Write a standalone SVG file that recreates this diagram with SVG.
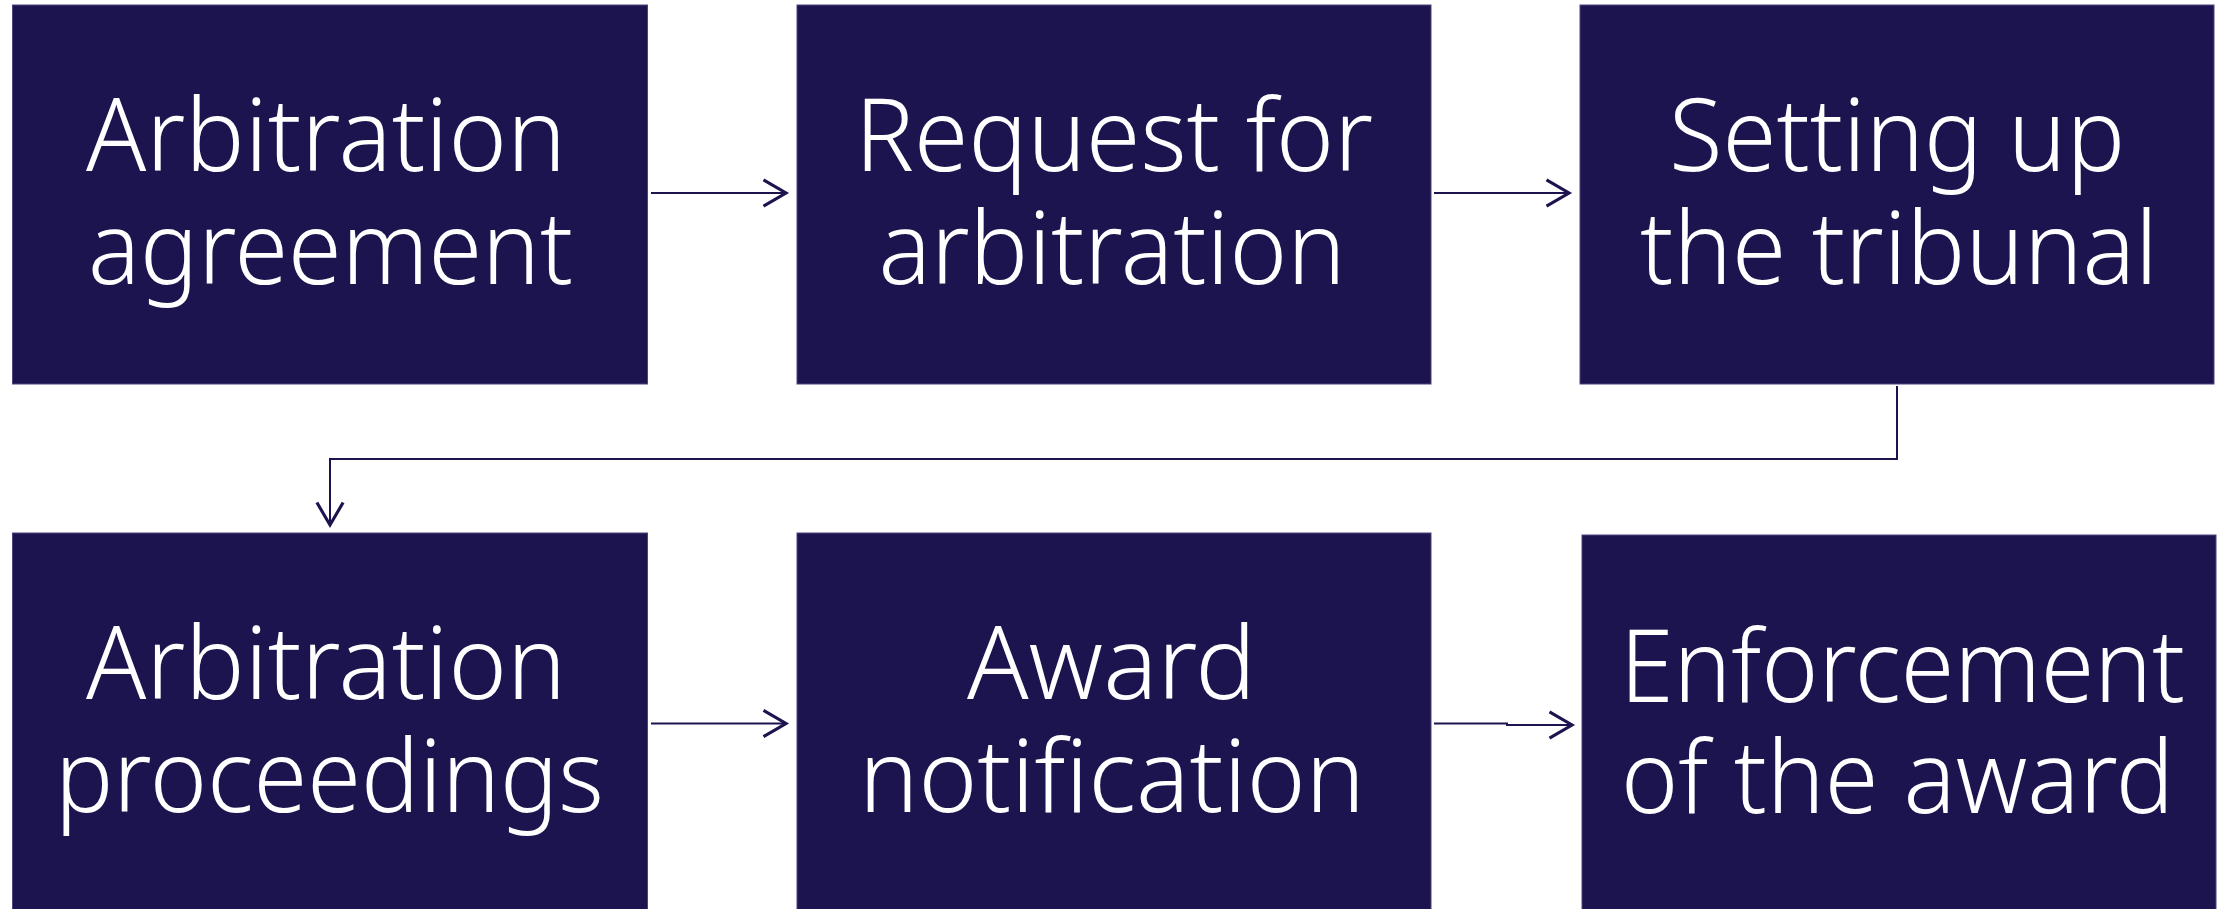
<svg xmlns="http://www.w3.org/2000/svg" width="2219" height="909" viewBox="0 0 2219 909">
  <style>
    .box { fill: #1c144e; stroke: #4a4580; stroke-width: 1; }
    .lbl { fill: #ffffff; font-family: "Noto Sans", "Open Sans", "DejaVu Sans", sans-serif; font-weight: 300; font-size: 102px; text-anchor: middle; }
    .conn { fill: none; stroke: #1c144e; stroke-width: 2; }
  </style>
  <defs>
    <marker id="arr" markerUnits="userSpaceOnUse" markerWidth="30" markerHeight="30" refX="0" refY="0" viewBox="-20 -12 22 24" orient="auto" overflow="visible">
      <path d="M-18,-10.5 L0,0 L-18,10.5" fill="none" stroke="#1c144e" stroke-width="2.5"/>
    </marker>
  </defs>
  <rect width="2219" height="909" fill="#ffffff"/>

  <g id="connectors">
    <path class="conn" d="M651,193 L786,193" marker-end="url(#arr)"/>
    <path class="conn" d="M1434,193 L1569,193" marker-end="url(#arr)"/>
    <path class="conn" d="M1897,386 L1897,459 L330,459 L330,525" marker-end="url(#arr)"/>
    <path class="conn" d="M651,723.5 L786,723.5" marker-end="url(#arr)"/>
    <path class="conn" d="M1434,723.5 L1507,723.5 L1507,725 L1572,725" marker-end="url(#arr)"/>
  </g>

  <g id="node1">
    <rect class="box" x="12.5" y="5" width="635" height="379"/>
    <text class="lbl" x="326" y="171" textLength="480" lengthAdjust="spacingAndGlyphs">Arbitration</text>
    <text class="lbl" x="330.5" y="284" textLength="485" lengthAdjust="spacingAndGlyphs">agreement</text>
  </g>
  <g id="node2">
    <rect class="box" x="797" y="5" width="634" height="379"/>
    <text class="lbl" x="1114" y="171" textLength="518" lengthAdjust="spacingAndGlyphs">Request for</text>
    <text class="lbl" x="1112" y="284" textLength="467" lengthAdjust="spacingAndGlyphs">arbitration</text>
  </g>
  <g id="node3">
    <rect class="box" x="1580" y="5" width="634" height="379"/>
    <text class="lbl" x="1897" y="171" textLength="456" lengthAdjust="spacingAndGlyphs">Setting up</text>
    <text class="lbl" x="1899" y="284" textLength="518" lengthAdjust="spacingAndGlyphs">the tribunal</text>
  </g>
  <g id="node4">
    <rect class="box" x="12.5" y="533" width="635" height="390"/>
    <text class="lbl" x="326" y="699" textLength="480" lengthAdjust="spacingAndGlyphs">Arbitration</text>
    <text class="lbl" x="329.5" y="812" textLength="549" lengthAdjust="spacingAndGlyphs">proceedings</text>
  </g>
  <g id="node5">
    <rect class="box" x="797" y="533" width="634" height="390"/>
    <text class="lbl" x="1111.5" y="699" textLength="289" lengthAdjust="spacingAndGlyphs">Award</text>
    <text class="lbl" x="1112" y="812" textLength="506" lengthAdjust="spacingAndGlyphs">notification</text>
  </g>
  <g id="node6">
    <rect class="box" x="1582" y="535" width="634" height="390"/>
    <text class="lbl" x="1902.5" y="702" textLength="565" lengthAdjust="spacingAndGlyphs">Enforcement</text>
    <text class="lbl" x="1897.5" y="813" textLength="553" lengthAdjust="spacingAndGlyphs">of the award</text>
  </g>
</svg>
